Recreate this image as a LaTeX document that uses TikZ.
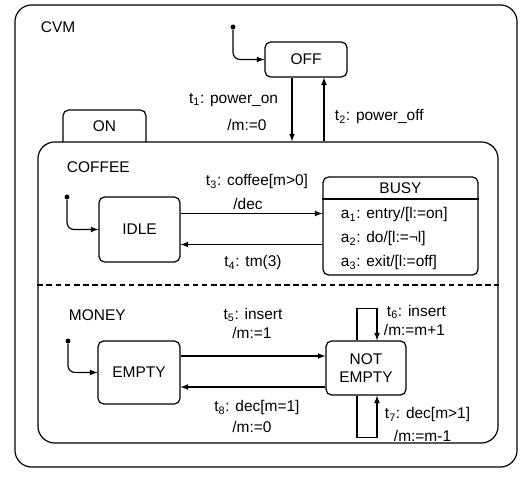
\documentclass[tikz,border=0pt]{standalone}
\usepackage{fontspec}
\setmainfont{Liberation Sans}
\usepackage{tikz}
\usetikzlibrary{arrows,calc}

\begin{document}
\begin{tikzpicture}[x=0.025cm,y=-0.025cm,font=\fontsize{11}{13}\selectfont,
  state/.style={draw,rounded corners=4pt,align=center,line width=0.85pt},
  area/.style={draw,rounded corners=12pt,line width=0.85pt},
  tr/.style={->,>=latex,line width=0.85pt},
  init/.style={tr,rounded corners=5pt},
  dot/.style={circle,fill,inner sep=0pt,minimum size=3.5pt}]
\useasboundingbox (0,0) rectangle (520,477);
\node[area,minimum width=12.55cm,minimum height=11.55cm] (cvm) at (266,236) {};
\node[area,minimum width=11.5cm,minimum height=7.525cm] (on) at (268,292.5) {};
\node[anchor=west] (cvml) at (36,27) {CVM};
\node (onl) at (104.5,126) {ON};
\draw[line width=0.85pt,rounded corners=4pt] (63,142) |- (146,110) -- (146,142);
\draw[line width=0.85pt,dash pattern=on 4pt off 2.5pt] ($(on.west)+(0,-7.5)$) -- ($(on.east)+(0,-7.5)$);
\node[anchor=west] (coffeel) at (62,167) {COFFEE};
\node[anchor=west] (moneyl) at (64,315) {MONEY};

\node[state,minimum width=2.05cm,minimum height=0.875cm] (off) at (306,59.5) {OFF};
\node[state,minimum width=2.025cm,minimum height=1.625cm] (idle) at (139.5,229.5) {IDLE};
\node[state,minimum width=3.875cm,minimum height=2.45cm] (busy) at (400.5,226) {};
\node[state,minimum width=2.05cm,minimum height=1.575cm] (empty) at (139,372.5) {EMPTY};
\node[state,minimum width=2cm,minimum height=1.35cm] (ne) at (366,368) {NOT\\EMPTY};
\draw[line width=0.85pt] ($(busy.west)+(0,-27)$) -- ($(busy.east)+(0,-27)$);
\node (busyl) at (400.5,188) {BUSY};
\node[anchor=west] (a1) at (336,215) {a\textsubscript{1}: entry/[l:=on]};
\node[anchor=west] (a2) at (336,239) {a\textsubscript{2}: do/[l:=¬l]};
\node[anchor=west] (a3) at (336,263) {a\textsubscript{3}: exit/[l:=off]};

\node[dot] (i0) at (233,27) {};
\node[dot] (i1) at (67,197) {};
\node[dot] (i2) at (68,341) {};
\draw[init] (i0) |- (off.west);
\draw[init] (i1) |- (idle.west);
\draw[init] (i2) |- (empty.west);

\draw[tr] ($(off.south)+(-14,0)$) coordinate (t1s) -- (t1s |- on.north);
\coordinate (t2s) at ($(off.south)+(18,0)$);
\draw[tr] (t2s |- on.north) -- (t2s);
\node[anchor=east] (l1) at (283,100) {t\textsubscript{1}: power\_on};
\node (l1b) at (247,125) {/m:=0};
\node[anchor=west] (l2) at (330,117) {t\textsubscript{2}: power\_off};

\draw[tr] ($(idle.east)+(0,-16)$) coordinate (t3s) -- (t3s -| busy.west);
\coordinate (t4e) at ($(idle.east)+(0,15)$);
\draw[tr] (t4e -| busy.west) -- (t4e);
\node (l3) at (257,182) {t\textsubscript{3}: coffee[m>0]};
\node (l3b) at (248,204) {/dec};
\node (l4) at (253,263) {t\textsubscript{4}: tm(3)};

\draw[tr] ($(empty.east)+(0,-16.5)$) coordinate (t5s) -- (t5s -| ne.west);
\coordinate (t8e) at ($(empty.east)+(0,14.5)$);
\draw[tr] (t8e -| ne.west) -- (t8e);
\node (l5) at (253,315) {t\textsubscript{5}: insert};
\node (l5b) at (252,333) {/m:=1};
\node (l8) at (257,408) {t\textsubscript{8}: dec[m=1]};
\node (l8b) at (252,427) {/m:=0};

\draw[tr] ($(ne.north)+(-9,0)$) -- ++(0,-32) -- ++(20,0) -- ++(0,32);
\draw[tr] ($(ne.south)+(-9,0)$) -- ++(0,42) -- ++(20,0) -- ++(0,-42);
\node[anchor=west] (l6) at (382,312) {t\textsubscript{6}: insert};
\node[anchor=west] (l6b) at (379,330) {/m:=m+1};
\node[anchor=west] (l7) at (380,415) {t\textsubscript{7}: dec[m>1]};
\node[anchor=west] (l7b) at (389,436) {/m:=m-1};
\end{tikzpicture}
\end{document}
